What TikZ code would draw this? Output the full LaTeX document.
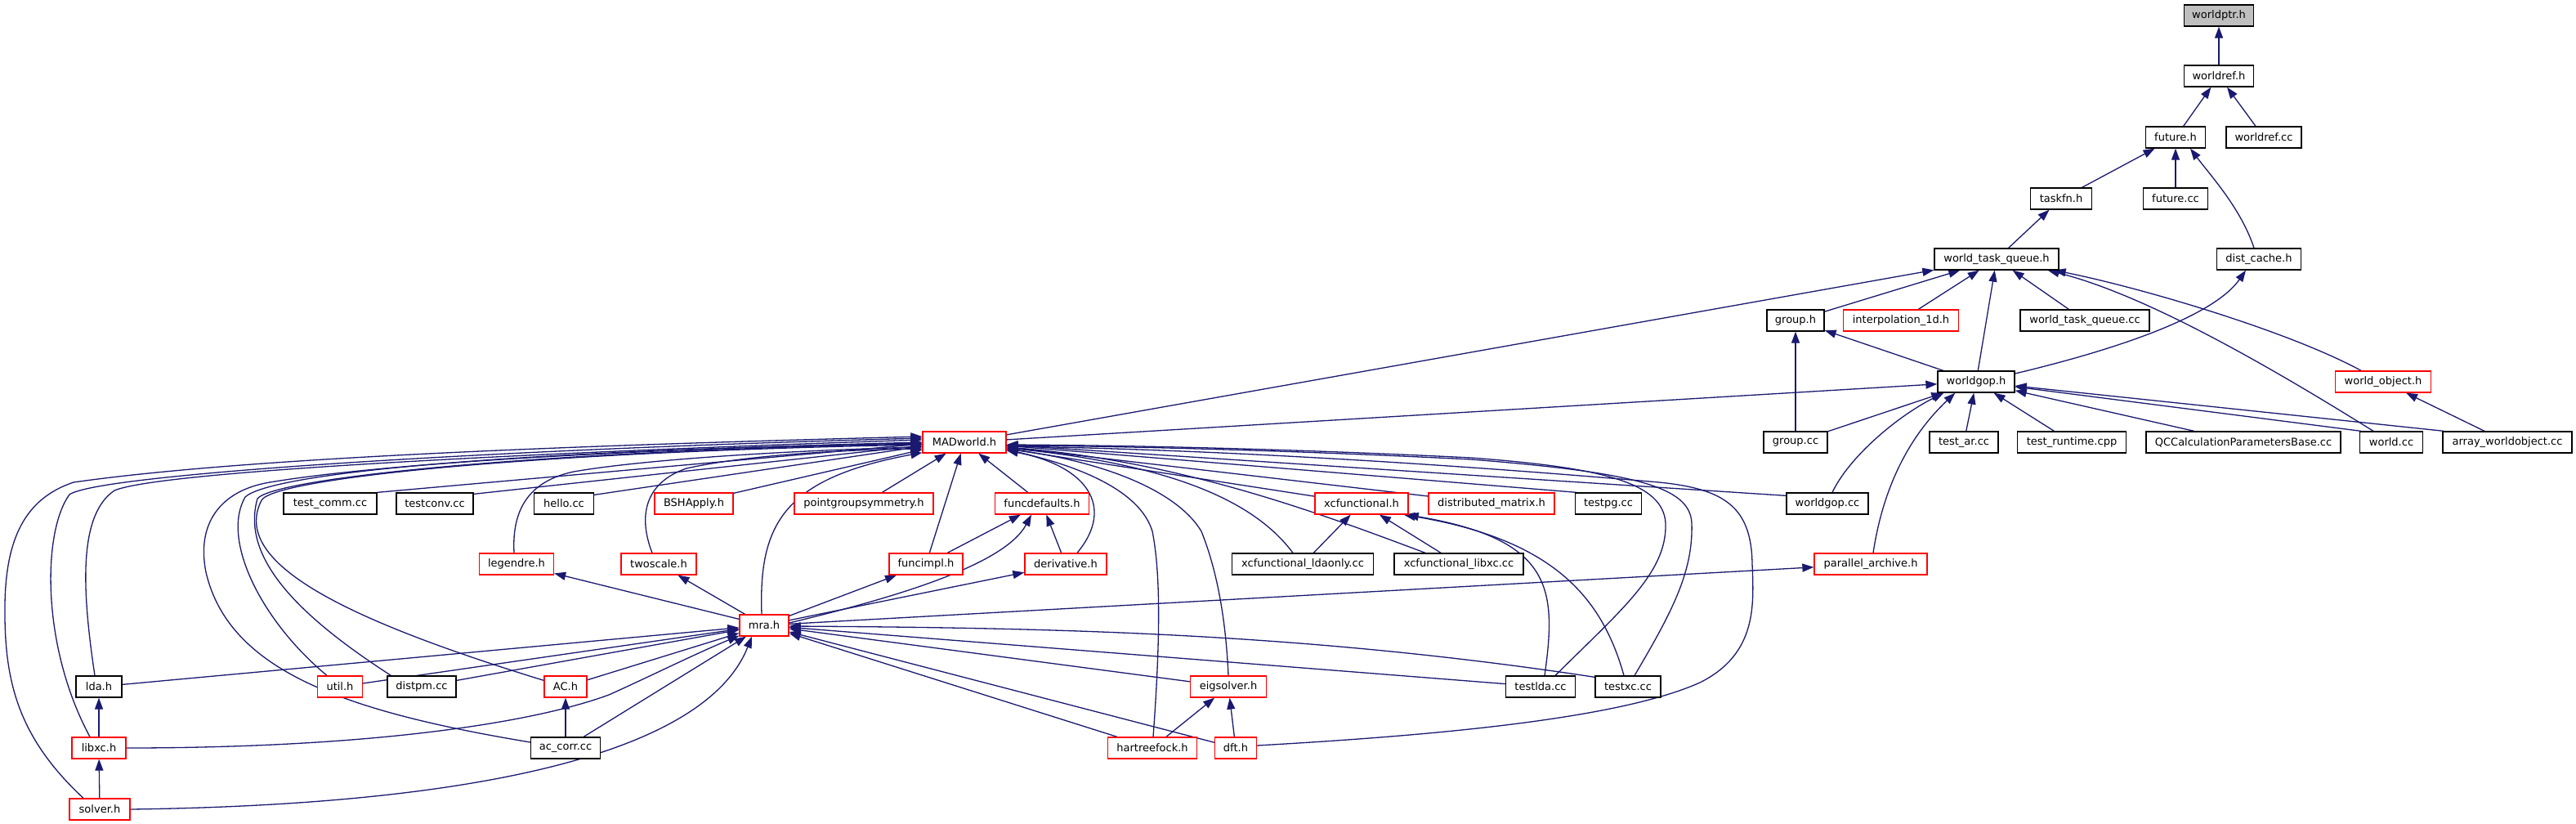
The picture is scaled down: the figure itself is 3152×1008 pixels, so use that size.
\documentclass[tikz,border=0pt]{standalone}
\usepackage{fontspec}
\newfontfamily\dvs{DejaVu Sans}
\usetikzlibrary{arrows.meta,calc}
\definecolor{edgeblue}{HTML}{191970}
\definecolor{rootgray}{HTML}{BFBFBF}
\definecolor{nodered}{HTML}{FF0000}
\pgfdeclarelayer{bg}
\pgfsetlayers{bg,main}
\tikzset{
  nd/.style={draw=black, line width=1.3pt, fill=white, rectangle, minimum height=26pt, inner sep=0pt, font=\dvs\fontsize{13}{15}\selectfont, text=black},
  rd/.style={nd, draw=nodered},
  rootnd/.style={nd, fill=rootgray},
  edge/.style={draw=edgeblue, line width=1.3pt, -{Triangle[length=14pt,width=10pt]}},
}
\begin{document}
\begin{tikzpicture}[x=1pt,y=-1pt]
\begin{pgfonlayer}{bg}
\fill[white] (0,0) rectangle (3152,1008);
\end{pgfonlayer}
\useasboundingbox (0,0) rectangle (3152,1008);
% nodes
\node[rootnd, minimum width=85pt] (worldptr) at (2715,19) {worldptr.h};
\node[nd, minimum width=85pt] (worldref) at (2715,93) {worldref.h};
\node[nd, minimum width=73pt] (future) at (2662,168) {future.h};
\node[nd, minimum width=92pt] (worldrefcc) at (2770,168) {worldref.cc};
\node[nd, minimum width=75pt] (taskfn) at (2522,243) {taskfn.h};
\node[nd, minimum width=79pt] (futurecc) at (2662,243) {future.cc};
\node[nd, minimum width=152pt] (wtq) at (2443,317) {world\_task\_queue.h};
\node[nd, minimum width=103pt] (distcache) at (2764,317) {dist\_cache.h};
\node[nd, minimum width=70pt] (grouph) at (2197,392) {group.h};
\node[rd, minimum width=141pt] (interp) at (2326,392) {interpolation\_1d.h};
\node[nd, minimum width=158pt] (wtqcc) at (2551,392) {world\_task\_queue.cc};
\node[nd, minimum width=94pt] (worldgop) at (2418,467) {worldgop.h};
\node[rd, minimum width=117pt] (worldobj) at (2916,467) {world\_object.h};
\node[rd, minimum width=102pt] (madworld) at (1180,541) {MADworld.h};
\node[nd, minimum width=78pt] (groupcc) at (2197,541) {group.cc};
\node[nd, minimum width=84pt] (testar) at (2403,541) {test\_ar.cc};
\node[nd, minimum width=133pt] (testrt) at (2535,541) {test\_runtime.cpp};
\node[nd, minimum width=238pt] (qccalc) at (2745,541) {QCCalculationParametersBase.cc};
\node[nd, minimum width=77pt] (worldcc) at (2926,541) {world.cc};
\node[nd, minimum width=158pt] (arraywo) at (3068,541) {array\_worldobject.cc};
\node[nd, minimum width=114pt] (testcomm) at (404,616) {test\_comm.cc};
\node[nd, minimum width=94pt] (testconv) at (532,616) {testconv.cc};
\node[nd, minimum width=73pt] (hello) at (690,616) {hello.cc};
\node[rd, minimum width=96pt] (bsh) at (849,616) {BSHApply.h};
\node[rd, minimum width=170pt] (pgs) at (1057,616) {pointgroupsymmetry.h};
\node[rd, minimum width=115pt] (funcdef) at (1275,616) {funcdefaults.h};
\node[rd, minimum width=114pt] (xcf) at (1666,616) {xcfunctional.h};
\node[rd, minimum width=154pt] (distmat) at (1825,616) {distributed\_matrix.h};
\node[nd, minimum width=81pt] (testpg) at (1968,616) {testpg.cc};
\node[nd, minimum width=100pt] (worldgopcc) at (2236,616) {worldgop.cc};
\node[rd, minimum width=91pt] (legendre) at (632,690) {legendre.h};
\node[rd, minimum width=92pt] (twoscale) at (806,690) {twoscale.h};
\node[rd, minimum width=90pt] (funcimpl) at (1133,690) {funcimpl.h};
\node[rd, minimum width=100pt] (deriv) at (1304,690) {derivative.h};
\node[nd, minimum width=173pt] (xclda) at (1594,690) {xcfunctional\_ldaonly.cc};
\node[nd, minimum width=158pt] (xclibxc) at (1785,690) {xcfunctional\_libxc.cc};
\node[rd, minimum width=138pt] (parch) at (2289,690) {parallel\_archive.h};
\node[rd, minimum width=60pt] (mra) at (935,765) {mra.h};
\node[nd, minimum width=56pt] (lda) at (121,840) {lda.h};
\node[rd, minimum width=55pt] (util) at (416,840) {util.h};
\node[nd, minimum width=84pt] (distpm) at (516,840) {distpm.cc};
\node[rd, minimum width=52pt] (ac) at (692,840) {AC.h};
\node[rd, minimum width=93pt] (eig) at (1503,840) {eigsolver.h};
\node[nd, minimum width=85pt] (testlda) at (1885,840) {testlda.cc};
\node[nd, minimum width=80pt] (testxc) at (1992,840) {testxc.cc};
\node[rd, minimum width=66pt] (libxc) at (121,915) {libxc.h};
\node[nd, minimum width=85pt] (accorr) at (692,915) {ac\_corr.cc};
\node[rd, minimum width=109pt] (hf) at (1410,915) {hartreefock.h};
\node[rd, minimum width=51pt] (dft) at (1512,915) {dft.h};
\node[rd, minimum width=74pt] (solver) at (122,990) {solver.h};
% edges
\begin{pgfonlayer}{bg}
\draw[edge] (worldref) -- (worldptr);
\draw[edge] (future) -- (worldref);
\draw[edge] (worldrefcc) -- (worldref);
\draw[edge] (taskfn) -- (future);
\draw[edge] (futurecc) -- (future);
\draw[edge] ($(distcache.north)+(-6,0)$) .. controls (2742,255) and (2705,215) .. ($(future.south)+(18,0)$);
\draw[edge] (wtq) -- (taskfn);
\draw[edge] (madworld) -- (wtq);
\draw[edge] (grouph) -- (wtq);
\draw[edge] (interp) -- (wtq);
\draw[edge] (worldgop) -- (wtq);
\draw[edge] (wtqcc) -- (wtq);
\draw[edge] ($(worldcc.north)+(-22,0)$) .. controls (2700,400) and (2590,352) .. ($(wtq.south east)+(-14,0)$);
\draw[edge] ($(worldobj.north)+(-27,0)$) .. controls (2800,405) and (2620,352) .. ($(wtq.south east)+(-6,0)$);
\draw[edge] ($(worldgop.east)+(0,-10)$) .. controls (2600,425) and (2710,385) .. ($(distcache.south)+(-16,0)$);
\draw[edge] (worldgop) -- (grouph);
\draw[edge] (groupcc) -- (grouph);
\draw[edge] (madworld) -- (worldgop);
\draw[edge] (groupcc) -- (worldgop);
\draw[edge] ($(worldgopcc.north)+(6,0)$) .. controls (2262,560) and (2320,510) .. ($(worldgop.south west)+(8,0)$);
\draw[edge] ($(parch.north)+(3,0)$) .. controls (2305,590) and (2340,530) .. ($(worldgop.south west)+(22,0)$);
\draw[edge] (testar) -- (worldgop);
\draw[edge] (testrt) -- (worldgop);
\draw[edge] (qccalc) -- (worldgop);
\draw[edge] ($(worldcc.north west)+(2,0)$) -- (worldgop);
\draw[edge] ($(arraywo.north west)+(2,0)$) -- (worldgop);
\draw[edge] (arraywo) -- (worldobj);
% MADworld left
\draw[edge] ($(lda.north)+(-5,0)$) .. controls (100,720) and (96,630) .. (140,600) .. controls (200,575) and (700,552) .. ($(madworld.west)+(0,-3)$);
\draw[edge] ($(libxc.north)+(-11,0)$) .. controls (50,790) and (52,650) .. (85,605) .. controls (120,580) and (600,550) .. ($(madworld.west)+(0,-5)$);
\draw[edge] ($(solver.north)+(-20,0)$) .. controls (20,900) and (5,830) .. (6,740) .. controls (7,660) and (30,610) .. (90,590) .. controls (300,560) and (700,545) .. ($(madworld.west)+(0,-7)$);
\draw[edge] ($(util.north)+(-16,0)$) .. controls (320,760) and (270,660) .. (300,608) .. controls (330,580) and (600,552) .. ($(madworld.west)+(0,1)$);
\draw[edge] ($(distpm.north west)+(5,0)$) .. controls (360,750) and (295,680) .. (315,610) .. controls (335,585) and (650,552) .. ($(madworld.west)+(0,2)$);
\draw[edge] ($(ac.north west)+(0,6)$) .. controls (430,760) and (280,690) .. (320,612) .. controls (335,585) and (650,553) .. ($(madworld.west)+(0,3)$);
\draw[edge] ($(accorr.west)+(0,-7)$) .. controls (420,870) and (280,820) .. (252,700) .. controls (240,640) and (270,600) .. (330,590) .. controls (450,570) and (700,552) .. ($(madworld.west)+(0,0)$);
\draw[edge] ($(legendre.north)+(-3,0)$) .. controls (626,620) and (650,588) .. (702,577) .. controls (800,560) and (1000,550) .. ($(madworld.west)+(0,6)$);
\draw[edge] ($(twoscale.north)+(-8,0)$) .. controls (780,630) and (790,590) .. (840,573) .. controls (920,555) and (1050,550) .. ($(madworld.west)+(0,8)$);
\draw[edge] ($(mra.north)+(-3,0)$) .. controls (928,640) and (960,585) .. ($(madworld.south west)+(0,-1)$);
\draw[edge] (testcomm.north east) -- ($(madworld.west)+(0,2)$);
\draw[edge] ($(testconv.north east)+(0,2)$) -- ($(madworld.west)+(0,4)$);
\draw[edge] ($(hello.north east)+(0,3)$) -- ($(madworld.west)+(0,5)$);
\draw[edge] ($(bsh.north east)+(0,1)$) -- ($(madworld.west)+(0,9)$);
% MADworld bottom / right
\draw[edge] (pgs) -- (madworld);
\draw[edge] (funcdef) -- (madworld);
\draw[edge] (funcimpl) -- (madworld);
\draw[edge] ($(deriv.north)+(14,0)$) .. controls (1365,620) and (1330,570) .. ($(madworld.east)+(0,10)$);
\draw[edge] (xcf) -- (madworld);
\draw[edge] (distmat) -- (madworld);
\draw[edge] ($(testpg.north west)+(2,0)$) -- (madworld);
\draw[edge] ($(worldgopcc.north west)+(0,4)$) -- (madworld);
\draw[edge] ($(xclda.north)+(-12,0)$) .. controls (1540,620) and (1450,570) .. ($(madworld.east)+(0,7)$);
\draw[edge] ($(xclibxc.north)+(-41,0)$) .. controls (1620,630) and (1450,565) .. ($(madworld.east)+(0,6)$);
\draw[edge] ($(hf.north)+(1,0)$) .. controls (1420,780) and (1420,700) .. (1410,650) .. controls (1395,600) and (1320,570) .. ($(madworld.east)+(0,9)$);
\draw[edge] (eig.north) .. controls (1500,760) and (1490,700) .. (1470,650) .. controls (1440,600) and (1350,565) .. ($(madworld.east)+(0,8)$);
\draw[edge] ($(testlda.north)+(18,0)$) .. controls (1985,745) and (2040,700) .. (2038,640) .. controls (2035,590) and (1960,572) .. (1800,560) .. controls (1600,550) and (1400,545) .. ($(madworld.east)+(0,3)$);
\draw[edge] ($(testxc.north)+(8,0)$) .. controls (2045,750) and (2072,700) .. (2070,640) .. controls (2068,595) and (2000,578) .. (1800,562) .. controls (1600,552) and (1400,546) .. ($(madworld.east)+(0,4)$);
\draw[edge] ($(dft.east)+(0,-3)$) .. controls (1750,900) and (1980,880) .. (2080,835) .. controls (2150,800) and (2146,740) .. (2144,690) .. controls (2143,620) and (2110,598) .. (2030,590) .. controls (1800,570) and (1500,550) .. ($(madworld.east)+(0,5)$);
% mra
\draw[edge] (mra) -- (legendre);
\draw[edge] (mra) -- (twoscale);
\draw[edge] (mra) -- (funcimpl);
\draw[edge] (mra) -- (deriv);
\draw[edge] ($(mra.east)+(0,-3)$) .. controls (1100,730) and (1230,690) .. ($(funcdef.south)+(-13,0)$);
\draw[edge] (mra) -- (parch);
\draw[edge] (lda) -- (mra);
\draw[edge] (util) -- (mra);
\draw[edge] (distpm) -- (mra);
\draw[edge] (ac) -- (mra);
\draw[edge] (accorr) -- (mra);
\draw[edge] (libxc.east) .. controls (450,915) and (650,885) .. (745,850) .. controls (790,830) and (850,800) .. ($(mra.south west)+(0,-1)$);
\draw[edge] (solver.east) .. controls (550,985) and (860,930) .. ($(mra.south)+(-15,0)$);
\draw[edge] (eig) -- (mra);
\draw[edge] (hf) -- (mra);
\draw[edge] (dft) -- (mra);
\draw[edge] (testlda) -- (mra);
\draw[edge] ($(testxc.north west)+(0,2)$) .. controls (1600,775) and (1300,768) .. ($(mra.east)+(0,1)$);
% others
\draw[edge] (funcimpl) -- (funcdef);
\draw[edge] (deriv) -- (funcdef);
\draw[edge] (xclda) -- (xcf);
\draw[edge] (xclibxc) -- (xcf);
\draw[edge] ($(testlda.north)+(5,0)$) .. controls (1905,720) and (1900,660) .. ($(xcf.south east)+(-2,0)$);
\draw[edge] ($(testxc.north)+(-5,0)$) .. controls (1960,730) and (1900,660) .. ($(xcf.south east)+(-6,0)$);
\draw[edge] (hf) -- (eig);
\draw[edge] (dft) -- (eig);
\draw[edge] (accorr) -- (ac);
\draw[edge] (libxc) -- (lda);
\draw[edge] (solver) -- (libxc);
\end{pgfonlayer}
\end{tikzpicture}
\end{document}
